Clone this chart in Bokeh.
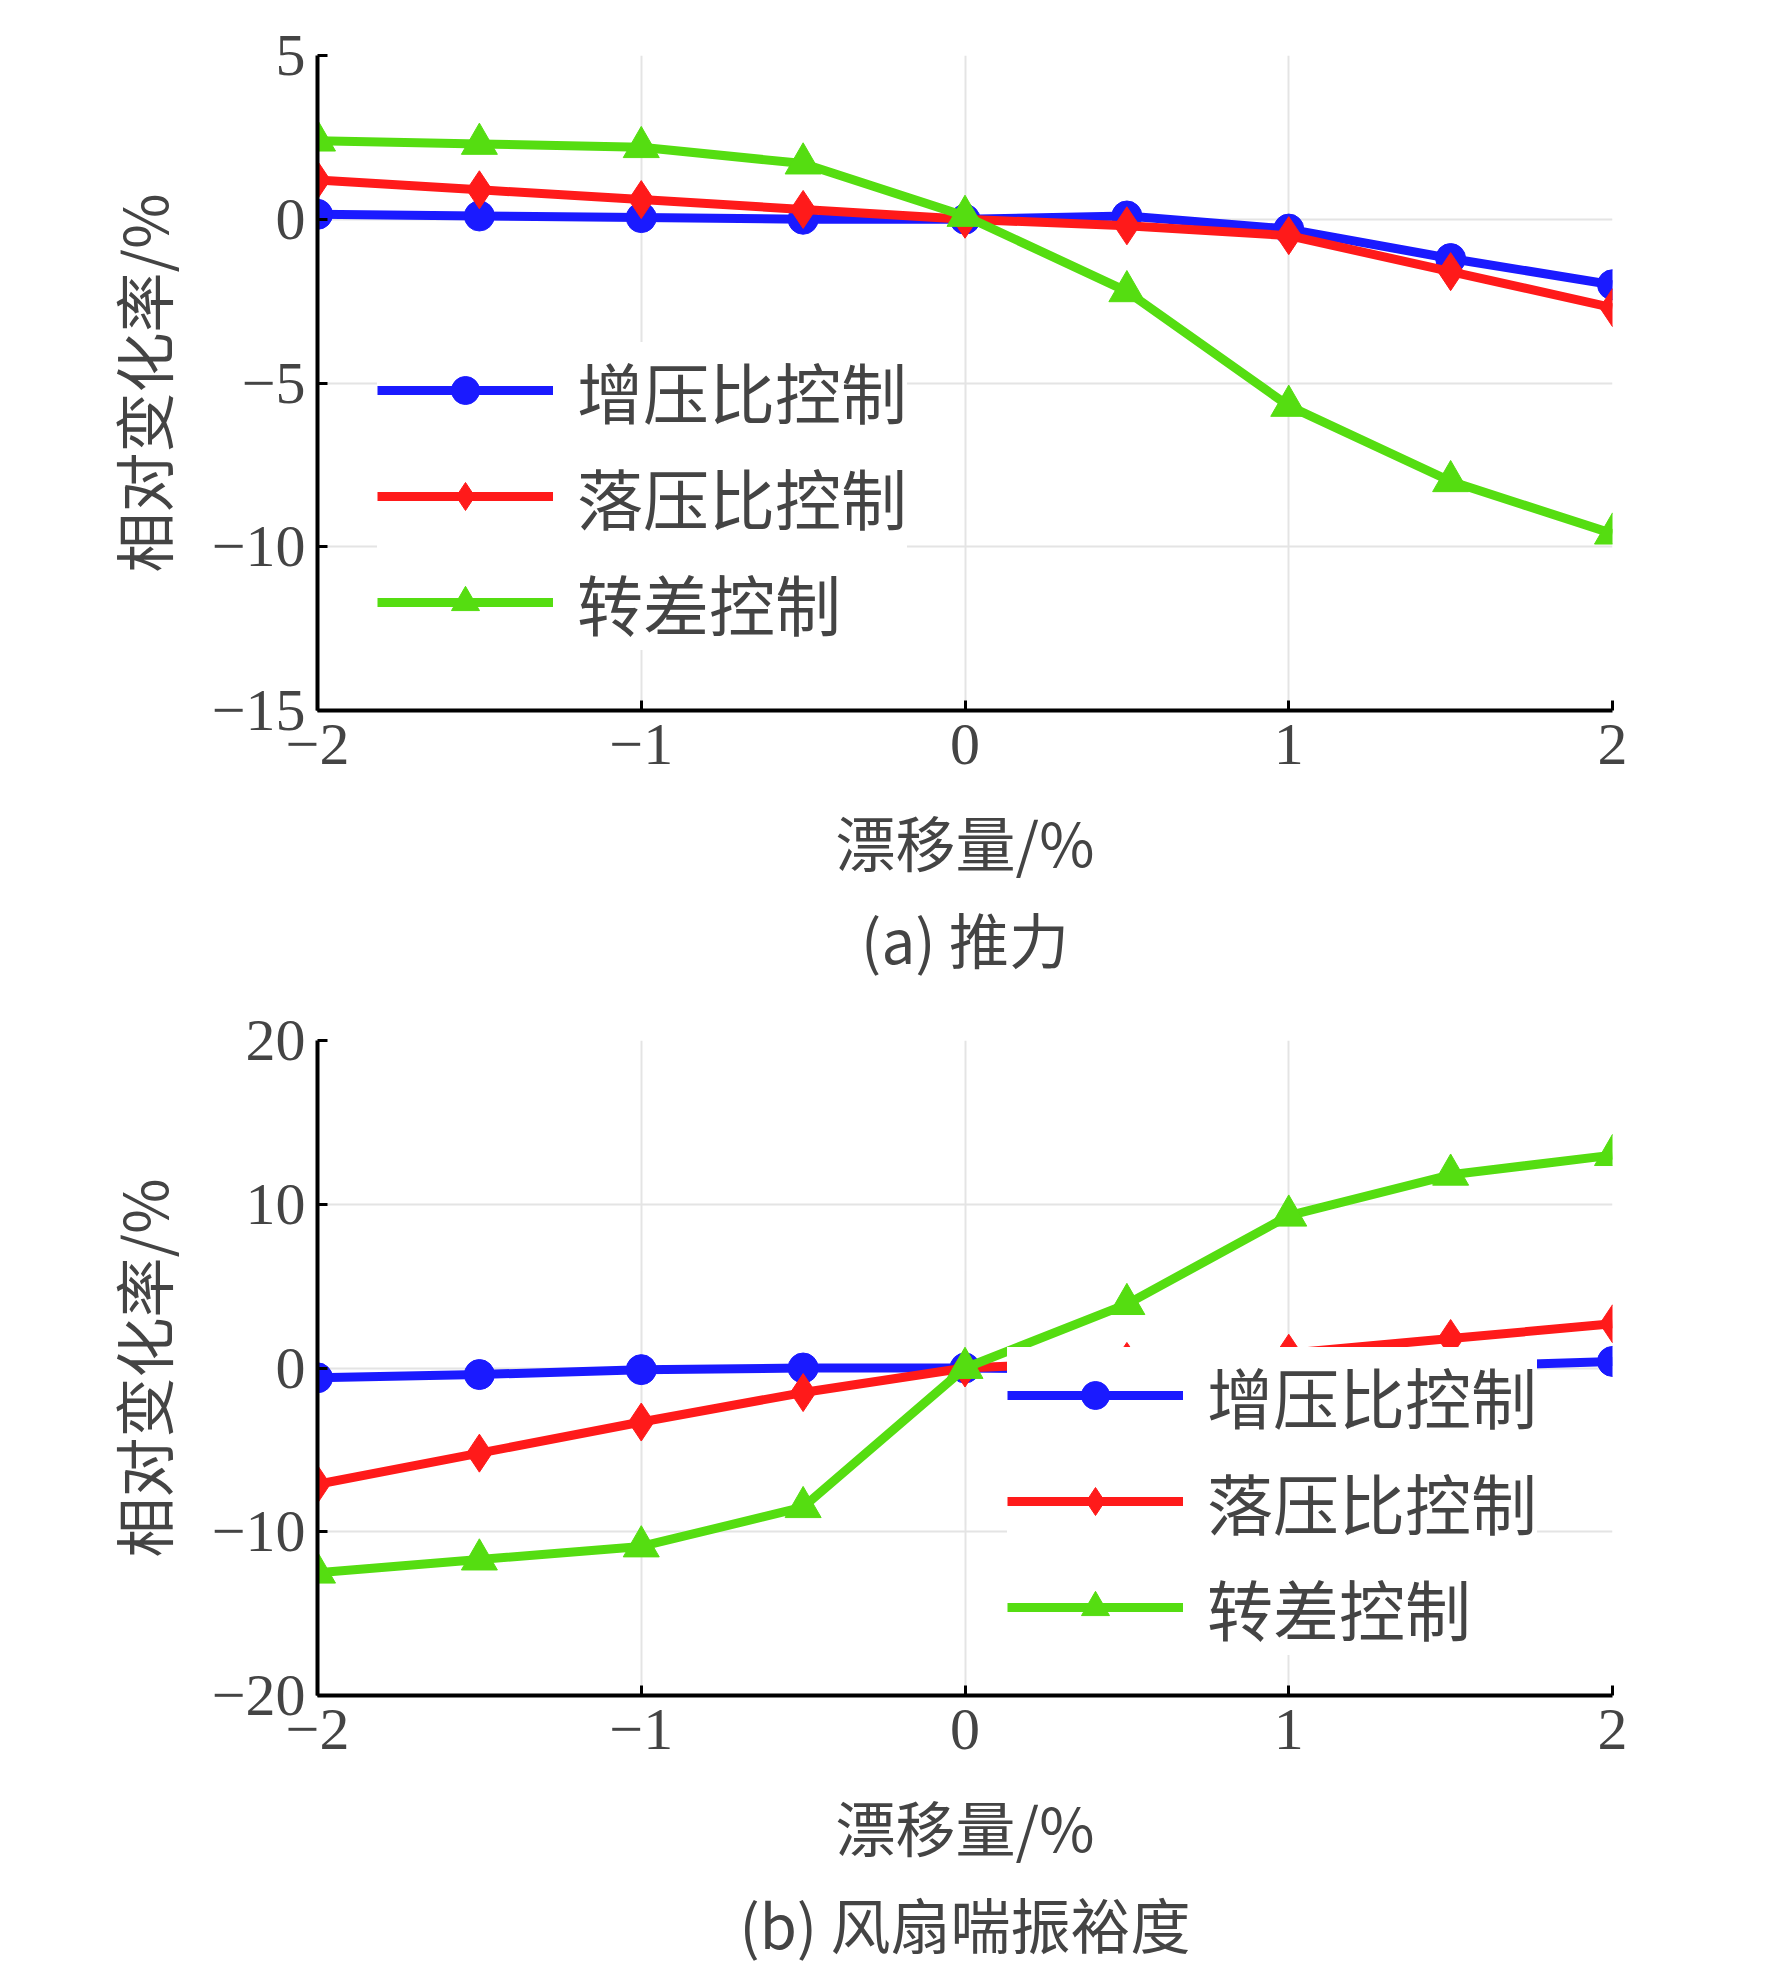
from bokeh.plotting import figure
from bokeh.layouts import column
from bokeh.models import Legend, LegendItem, Title, FixedTicker
from bokeh.embed import file_html
from bokeh.resources import INLINE

x = [-2, -1.5, -1, -0.5, 0, 0.5, 1, 1.5, 2]
names = ["增压比控制", "落压比控制", "转差控制"]
a_blue = [0.15, 0.1, 0.05, 0.0, 0.0, 0.1, -0.3, -1.2, -2.0]
a_red = [1.2, 0.9, 0.6, 0.3, 0.0, -0.2, -0.5, -1.6, -2.7]
a_green = [2.4, 2.3, 2.2, 1.7, 0.1, -2.2, -5.7, -8.0, -9.6]
b_blue = [-0.6, -0.4, -0.1, 0.0, 0.0, -0.1, -0.1, 0.1, 0.4]
b_red = [-7.1, -5.2, -3.3, -1.5, 0.0, 0.4, 0.9, 1.8, 2.7]
b_green = [-12.5, -11.7, -10.9, -8.5, 0.0, 3.9, 9.3, 11.8, 13.0]
colors = ["#1a1aff", "#ff1a1a", "#55dd11"]
SERIF = "Liberation Serif"
CJK = "Noto Sans CJK SC"

def make(series, yr, yticks, caption):
    p = figure(width=1756, height=985, x_range=(-2, 2), y_range=yr,
               output_backend="svg", toolbar_location=None,
               min_border_left=317, min_border_right=144, min_border_top=55)
    p.outline_line_color = None
    items = []
    markers = ["circle", "diamond", "triangle"]
    sizes = [30, 38, 36]
    for ys, c, m, s, n in zip(series, colors, markers, sizes, names):
        r1 = p.line(x, ys, color=c, line_width=9)
        r2 = p.scatter(x, ys, marker=m, size=s, color=c)
        items.append(LegendItem(label=n, renderers=[r1, r2]))
    leg = Legend(items=items, location=(0, 0), border_line_color=None,
                 background_fill_alpha=1, label_text_font=CJK,
                 label_text_font_size="66px", glyph_width=176, glyph_height=70,
                 label_height=76, spacing=10, label_standoff=24, margin=0)
    p.add_layout(leg, "center")
    p.xaxis.ticker = FixedTicker(ticks=[-2, -1, 0, 1, 2])
    p.yaxis.ticker = FixedTicker(ticks=yticks)
    p.xaxis.major_label_overrides = {-2: "−2", -1: "−1"}
    p.yaxis.major_label_overrides = {t: ("−%d" % -t if t < 0 else str(t)) for t in yticks}
    for ax in (p.xaxis, p.yaxis):
        ax.axis_line_width = 4
        ax.major_tick_in = 10
        ax.major_tick_out = 0
        ax.major_tick_line_width = 3
        ax.minor_tick_line_color = None
        ax.major_label_text_font = SERIF
        ax.major_label_text_font_size = "60px"
        ax.axis_label_text_font = CJK
        ax.axis_label_text_font_size = "60px"
        ax.axis_label_text_font_style = "normal"
    p.xaxis.major_label_standoff = 14
    p.yaxis.major_label_standoff = 12
    p.xaxis.axis_label = "漂移量/%"
    p.yaxis.axis_label = "相对变化率/%"
    p.xaxis.axis_label_standoff = 30
    p.yaxis.axis_label_standoff = 24
    p.grid.grid_line_color = "#e4e4e4"
    p.grid.grid_line_width = 2
    t = Title(text=caption, align="center", text_font=CJK, text_font_size="60px",
              text_font_style="normal", offset=0)
    p.add_layout(t, "below")
    return p

p1 = make([a_blue, a_red, a_green], (-15, 5), [-15, -10, -5, 0, 5], "(a) 推力")
p1.legend[0].location = (60, 60)
p2 = make([b_blue, b_red, b_green], (-20, 20), [-20, -10, 0, 10, 20], "(b) 风扇喘振裕度")
p2.legend[0].location = (690, 40)
p = column(p1, p2)
open("out.html", "w").write(file_html(p, INLINE))
